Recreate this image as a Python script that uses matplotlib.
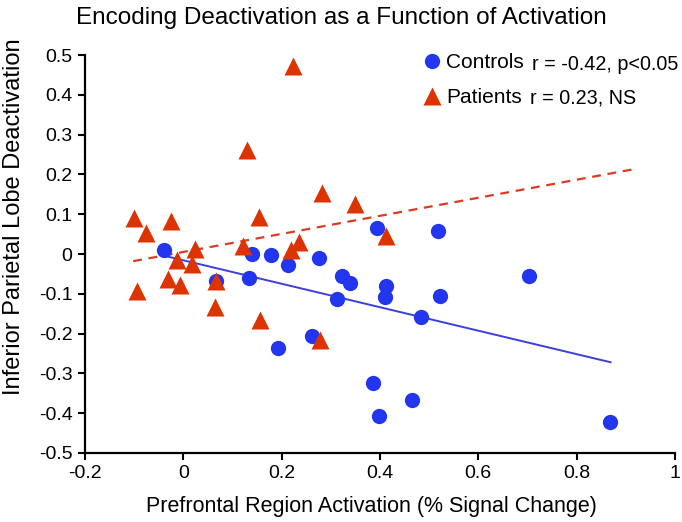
import matplotlib
matplotlib.use("Agg")
import matplotlib.pyplot as plt

plt.rcParams["font.family"] = ["Liberation Sans", "DejaVu Sans"]

# values
controls_x = [-0.040, 0.066, 0.133, 0.139, 0.178, 0.213, 0.276, 0.323, 0.339, 0.394,
              0.517, 0.413, 0.411, 0.522, 0.312, 0.483, 0.261, 0.192, 0.386, 0.397,
              0.466, 0.704, 0.868]
controls_y = [0.009, -0.069, -0.060, 0.000, -0.002, -0.027, -0.010, -0.055, -0.073, 0.065,
              0.057, -0.080, -0.108, -0.105, -0.113, -0.159, -0.205, -0.236, -0.323, -0.407,
              -0.366, -0.056, -0.422]

patients_x = [0.224, 0.129, 0.283, 0.350, -0.100, -0.025, 0.154, -0.076, 0.024, -0.012,
              0.017, -0.031, -0.007, -0.095, 0.066, 0.064, 0.121, 0.412, 0.219, 0.235,
              0.156, 0.278]
patients_y = [0.472, 0.262, 0.153, 0.126, 0.091, 0.082, 0.093, 0.052, 0.013, -0.015,
              -0.026, -0.063, -0.077, -0.092, -0.067, -0.134, 0.021, 0.044, 0.011, 0.030,
              -0.166, -0.216]

# regression line end points
controls_fit_x = [-0.040, 0.869]
controls_fit_y = [-0.004, -0.272]
patients_fit_x = [-0.102, 0.916]
patients_fit_y = [-0.018, 0.213]

x_ticks = [-0.2, 0, 0.2, 0.4, 0.6, 0.8, 1]
x_tick_labels = ["-0.2", "0", "0.2", "0.4", "0.6", "0.8", "1"]
y_ticks = [0.5, 0.4, 0.3, 0.2, 0.1, 0, -0.1, -0.2, -0.3, -0.4, -0.5]
y_tick_labels = ["0.5", "0.4", "0.3", "0.2", "0.1", "0", "-0.1", "-0.2", "-0.3", "-0.4", "-0.5"]

blue = "#2236f0"
red = "#dd3300"

fig = plt.figure(figsize=(6.82, 5.22), dpi=100)
ax = fig.add_axes([0.1246, 0.1322, 0.8651, 0.7624])

ax.plot(controls_fit_x, controls_fit_y, color="#3b3fe0", lw=1.4, zorder=2)
ax.plot(patients_fit_x, patients_fit_y, color="#dd3a22", lw=1.6, ls=(0, (4, 3)), zorder=2)

ax.plot(controls_x, controls_y, "o", ms=11, color=blue, mec="none", zorder=3, label="Controls")
ax.plot(patients_x, patients_y, "^", ms=13, color=red, mec="none", zorder=4, label="Patients")

ax.set_xlim(-0.2, 1)
ax.set_ylim(-0.5, 0.5)
ax.set_xticks(x_ticks)
ax.set_xticklabels(x_tick_labels)
ax.set_yticks(y_ticks)
ax.set_yticklabels(y_tick_labels)
ax.tick_params(direction="out", length=5, width=1.5, labelsize=14, pad=4)
for side in ["top", "right"]:
    ax.spines[side].set_visible(False)
for side in ["left", "bottom"]:
    ax.spines[side].set_linewidth(1.6)

ax.set_xlabel("Prefrontal Region Activation (% Signal Change)", fontsize=15.5)
ax.xaxis.set_label_coords(0.486, -0.109)
ax.set_ylabel("Inferior Parietal Lobe Deactivation", fontsize=17)
ax.yaxis.set_label_coords(-0.1017, 0.593)
fig.text(0.5, 0.966, "Encoding Deactivation as a Function of Activation",
         ha="center", va="center", fontsize=17.5)

leg = ax.legend(loc="upper left", bbox_to_anchor=(0.556, 1.03), frameon=False,
                fontsize=15, handlelength=0.8, handletextpad=0.3, labelspacing=0.75,
                borderpad=0, markerscale=1.0)
ax.text(0.757, 0.977, "r = -0.42, p<0.05", transform=ax.transAxes,
        ha="left", va="center", fontsize=14.2)
ax.text(0.754, 0.892, "r = 0.23, NS", transform=ax.transAxes,
        ha="left", va="center", fontsize=14.2)

fig.savefig("out.png", dpi=100)
